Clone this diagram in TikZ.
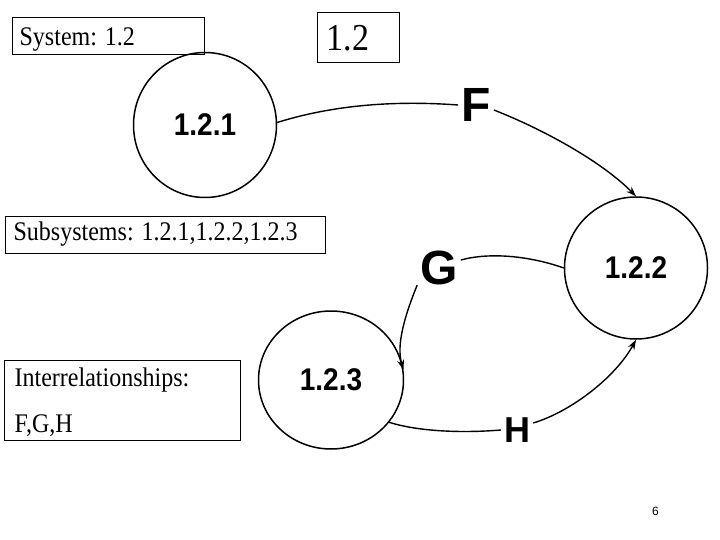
\documentclass[tikz,border=0pt]{standalone}
\usepackage{fontspec}
\usepackage{graphicx}
\setmainfont{Liberation Serif}
\newfontfamily\arialfont{Liberation Sans}
\usetikzlibrary{arrows.meta,shapes.geometric}
\newcommand{\vst}[1]{\scalebox{1}[1.12]{#1}}
\frenchspacing
\begin{document}
\begin{tikzpicture}[x=1pt,y=-1pt,
  tbox/.style={draw, line width=1.3pt, anchor=north west, inner ysep=0pt, align=left, font=\fontsize{24}{46}\selectfont},
  bub/.style={draw, ellipse, line width=1.5pt, inner sep=0pt, font=\arialfont\bfseries\fontsize{28}{30}\selectfont},
  lab/.style={inner xsep=3pt, inner ysep=0pt, font=\arialfont\bfseries\fontsize{48}{50}\selectfont},
  flow/.style={line width=1.4pt},
  flowarr/.style={flow, -{Stealth[length=10pt,width=7pt]}}]
\fill[white] (0,0) rectangle (720,540);
\useasboundingbox (0,0) rectangle (720,540);

% text boxes
\node[tbox, inner xsep=7pt, text width=178pt, minimum width=192pt, minimum height=37pt, text height=28pt, text depth=9pt] (sys) at (12,17) {\vst{System: 1.2}};
\node[tbox, inner xsep=9pt, text width=64pt, minimum width=82pt, minimum height=50pt, text height=38pt, text depth=12pt, font=\fontsize{34}{40}\selectfont] (top) at (317,12) {\vst{1.2}};
\node[tbox, inner xsep=8pt, text width=304pt, minimum width=320pt, minimum height=37pt, text height=24pt, text depth=13pt] (subs) at (5,216) {\vst{Subsystems: 1.2.1,1.2.2,1.2.3}};
\node[tbox, inner xsep=10pt, text width=216pt, minimum width=236pt, minimum height=80pt] (inter) at (4,360) {\rule{0pt}{22pt}\vst{Interrelationships:}\\\vst{F,G,H}};

% bubbles
\node[bub, minimum width=143pt, minimum height=145pt] (c121) at (205,125) {\vst{1.2.1}};
\node[bub, minimum width=143pt, minimum height=142pt] (c122) at (636,268) {\vst{1.2.2}};
\node[bub, minimum width=145pt, minimum height=138pt] (c123) at (331,380) {\vst{1.2.3}};

% flow labels
\node[lab] (F) at (476,105) {F};
\node[lab] (G) at (439,268) {G};
\node[lab, font=\arialfont\bfseries\fontsize{36}{40}\selectfont] (H) at (517,430) {H};

% flows
\draw[flow] (c121.2) .. controls (330,106) and (390,100) .. (F.west);
\draw[flowarr] ([yshift=-5pt]F.east) .. controls (540,128) and (600,160) .. (c122.north);
\draw[flow] (c122.west) .. controls (530,256) and (490,252) .. ([yshift=8pt]G.east);
\draw[flowarr] (G.south west) .. controls (405,315) and (396,345) .. (c123.8);
\draw[flow] (c123.-36) .. controls (420,432) and (465,433) .. (H.west);
\draw[flowarr] ([yshift=7pt]H.east) .. controls (570,412) and (615,378) .. (c122.south);

% page number
\node[font=\arialfont\fontsize{12}{14}\selectfont] (pg) at (655.5,511) {6};
\end{tikzpicture}
\end{document}
